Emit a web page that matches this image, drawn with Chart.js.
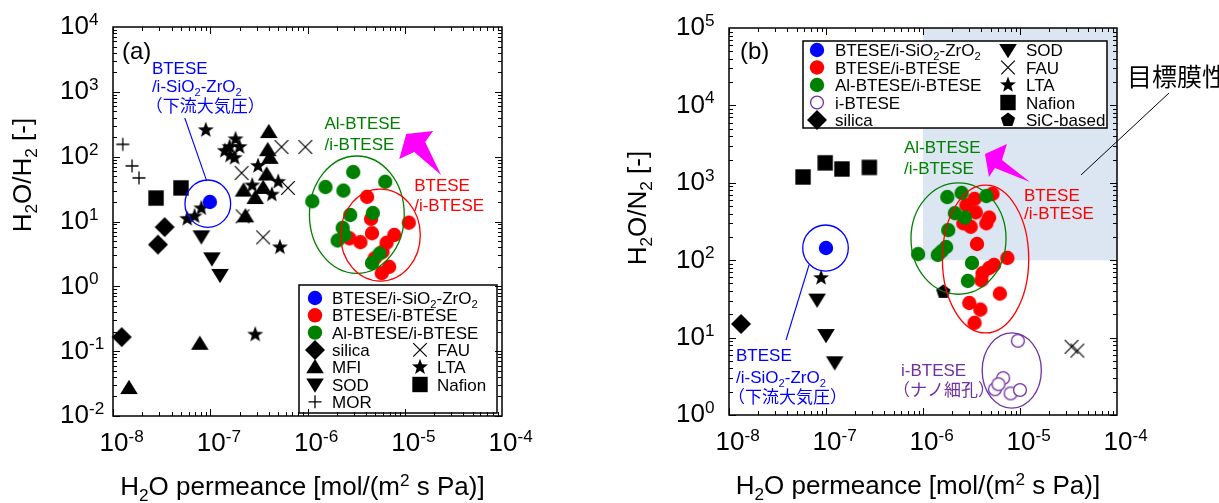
<!DOCTYPE html>
<html>
<head>
<meta charset="utf-8">
<script src="https://cdn.jsdelivr.net/npm/chart.js@4.4.1/dist/chart.umd.min.js"></script>
<style>
  html, body { margin: 0; padding: 0; background: #fff; width: 1219px; height: 503px; overflow: hidden; }
  #ca { position: absolute; left: 0; top: 0; }
  #cb { position: absolute; left: 610px; top: 0; }
</style>
</head>
<body>
<canvas id="ca" width="610" height="503"></canvas>
<canvas id="cb" width="609" height="503"></canvas>
<script>
// ---------- panel (a): H2O/H2 selectivity vs. H2O permeance ----------
const aBtSiZrX = [9.9e-8];
const aBtSiZrY = [20];
const aBtBtX = [4.1e-6, 4.5e-6, 1.1e-5, 4.6e-6, 3.5e-6, 2.7e-6, 7.8e-6, 6.5e-6, 5.9e-6, 4.9e-6, 6.9e-6, 5.8e-6];
const aBtBtY = [24, 11, 9.6, 6.6, 4.8, 5.5, 6.2, 4.7, 3.4, 2.7, 2.0, 1.6];
const aAlBtX = [2.95e-6, 1.53e-6, 2.34e-6, 6.3e-6, 1.12e-6, 2.75e-6, 4.7e-6, 2.3e-6, 2.04e-6, 2.4e-6, 5.5e-6, 4.6e-6];
const aAlBtY = [58, 34, 30, 41, 20.5, 12.6, 13.5, 8.0, 5.1, 6.2, 3.2, 2.3];
const aSilicaX = [3.4e-8, 2.9e-8, 1.23e-8];
const aSilicaY = [8.2, 4.4, 0.165];
const aMfiX = [4.0e-7, 3.9e-7, 4.1e-7, 3.8e-7, 2.2e-7, 2.9e-7, 3.5e-7, 2.3e-7, 1.46e-8, 7.8e-8];
const aMfiY = [240, 126, 96, 53, 30, 23, 33, 12, 0.027, 0.13];
const aSodX = [8.1e-8, 1.04e-7, 1.26e-7];
const aSodY = [5.9, 2.7, 1.5];
const aMorX = [1.26e-8, 1.57e-8, 1.85e-8];
const aMorY = [155, 72, 47];
const aFauX = [5.4e-7, 9.5e-7, 2.1e-7, 6.3e-7, 2.15e-7, 3.5e-7];
const aFauY = [141, 141, 56, 33, 12, 5.7];
const aLtaX = [9.0e-8, 1.58e-7, 1.82e-7, 2.0e-7, 1.41e-7, 1.78e-7, 1.6e-7, 3.1e-7, 2.7e-7, 4.3e-7, 5.0e-7, 8.1e-8, 6.9e-8, 5.8e-8, 5.2e-7, 2.9e-7];
const aLtaY = [257, 141, 186, 141, 123, 96, 104, 72, 36, 26, 41, 16, 12, 11, 4.0, 0.18];
const aNafionX = [2.77e-8, 5.0e-8];
const aNafionY = [23, 33];

// ---------- panel (b): H2O/N2 selectivity vs. H2O permeance ----------
const bBtSiZrX = [1.0e-7];
const bBtSiZrY = [144];
const bBtBtX = [3.4e-6, 2.8e-6, 5.2e-6, 3.5e-6, 2.6e-6, 3.1e-6, 4.5e-6, 4.8e-6, 3.6e-6, 7.4e-6, 5.4e-6, 4.8e-6, 4.1e-6, 4.0e-6, 6.2e-6, 3.0e-6, 3.9e-6, 3.4e-6];
const bBtBtY = [620, 515, 720, 415, 300, 270, 300, 355, 162, 107, 87, 79, 68, 55, 37, 28, 23, 15.5];
const bAlBtX = [1.78e-6, 2.5e-6, 4.5e-6, 2.13e-6, 2.7e-6, 1.82e-6, 8.9e-7, 1.42e-6, 1.73e-6, 1.55e-6, 3.2e-6, 2.9e-6];
const bAlBtY = [655, 740, 675, 405, 355, 245, 120, 117, 148, 130, 92, 54];
const bIBtX = [9.5e-6, 6.7e-6, 5.5e-6, 6.0e-6, 8.0e-6, 1.0e-5];
const bIBtY = [9.1, 3.0, 2.15, 2.5, 1.9, 2.1];
const bSilicaX = [1.33e-8];
const bSilicaY = [15];
const bSodX = [8.1e-8, 1.0e-7, 1.23e-7];
const bSodY = [31, 10.8, 4.8];
const bFauX = [3.4e-5, 3.9e-5];
const bFauY = [7.6, 6.8];
const bLtaX = [8.9e-8];
const bLtaY = [59];
const bNafionX = [5.8e-8, 9.8e-8, 1.46e-7, 2.8e-7];
const bNafionY = [1190, 1810, 1510, 1580];
const bSicX = [1.62e-6];
const bSicY = [39];

// axis ranges (decades)
const xDecades = [-8, -4];
const aYDecades = [-2, 4];
const bYDecades = [0, 5];

const FONT = '"Liberation Sans", Arial, "Noto Sans CJK JP", sans-serif';
const BLUE = '#0000ff', RED = '#ff0000', GREEN = '#008000', PURPLE = '#7030a0', MAGENTA = '#ff00ff', BLACK = '#000000';

// ---------- marker glyphs ----------
function drawShape(g, shape, x, y, color) {
  g.save();
  g.beginPath();
  g.fillStyle = color; g.strokeStyle = color;
  switch (shape) {
    case 'circle': g.arc(x, y, 7.2, 0, Math.PI * 2); g.fill(); break;
    case 'ocircle':
      g.arc(x, y, 6.4, 0, Math.PI * 2); g.fillStyle = '#fff'; g.fill();
      g.lineWidth = 1.3; g.stroke(); break;
    case 'diamond':
      g.moveTo(x, y - 10); g.lineTo(x + 10, y); g.lineTo(x, y + 10); g.lineTo(x - 10, y);
      g.closePath(); g.fill(); break;
    case 'tri':
      g.moveTo(x, y - 8.2); g.lineTo(x + 8.8, y + 6); g.lineTo(x - 8.8, y + 6);
      g.closePath(); g.fill(); break;
    case 'dtri':
      g.moveTo(x, y + 8.2); g.lineTo(x + 8.8, y - 6); g.lineTo(x - 8.8, y - 6);
      g.closePath(); g.fill(); break;
    case 'square': g.rect(x - 7.7, y - 7.7, 15.4, 15.4); g.fill(); break;
    case 'plus':
      g.moveTo(x - 6.5, y); g.lineTo(x + 6.5, y); g.moveTo(x, y - 6.5); g.lineTo(x, y + 6.5);
      g.lineWidth = 1.3; g.stroke(); break;
    case 'x':
      g.moveTo(x - 6.8, y - 6.8); g.lineTo(x + 6.8, y + 6.8); g.moveTo(x + 6.8, y - 6.8); g.lineTo(x - 6.8, y + 6.8);
      g.lineWidth = 1.2; g.stroke(); break;
    case 'star':
      for (let i = 0; i < 10; i++) {
        const r = i % 2 ? 3.5 : 8.4, a = -Math.PI / 2 + i * Math.PI / 5;
        const px = x + r * Math.cos(a), py = y + r * Math.sin(a);
        i ? g.lineTo(px, py) : g.moveTo(px, py);
      }
      g.closePath(); g.fill(); break;
    case 'pent':
      for (let i = 0; i < 5; i++) {
        const a = -Math.PI / 2 + i * 2 * Math.PI / 5;
        const px = x + 7.5 * Math.cos(a), py = y + 7.5 * Math.sin(a);
        i ? g.lineTo(px, py) : g.moveTo(px, py);
      }
      g.closePath(); g.fill(); break;
  }
  g.restore();
}
function markerImage(shape, color) {
  const c = document.createElement('canvas');
  c.width = 24; c.height = 24;
  drawShape(c.getContext('2d'), shape, 12, 12, color);
  return c;
}

// ---------- text with sub/superscripts ----------
function drawRich(ctx, parts, x, yMid, size, color, align) {
  const segs = parts.map(p => typeof p === 'string' ? [p, ''] : p).map(([t, k]) => {
    const s = k ? size * 0.66 : size;
    ctx.font = s + 'px ' + FONT;
    return { t, k, s, w: ctx.measureText(t).width };
  });
  const total = segs.reduce((a, g) => a + g.w, 0);
  let cx = align === 'center' ? x - total / 2 : align === 'right' ? x - total : x;
  const base = yMid + size * 0.36;
  ctx.fillStyle = color; ctx.textAlign = 'left'; ctx.textBaseline = 'alphabetic';
  for (const g of segs) {
    ctx.font = g.s + 'px ' + FONT;
    const dy = g.k === 'sub' ? size * 0.2 : g.k === 'sup' ? -size * 0.36 : 0;
    ctx.fillText(g.t, cx, base + dy);
    cx += g.w;
  }
  return total;
}

const SIZR = ['BTESE/i-SiO', ['2', 'sub'], '-ZrO', ['2', 'sub']];

// ---------- series definitions (first = drawn on top) ----------
const seriesA = [
  { name: 'BTESE/i-SiO2-ZrO2', parts: SIZR, xs: aBtSiZrX, ys: aBtSiZrY, shape: 'circle', color: BLUE, leg: [0, 0] },
  { name: 'Al-BTESE/i-BTESE', parts: ['Al-BTESE/i-BTESE'], xs: aAlBtX, ys: aAlBtY, shape: 'circle', color: GREEN, leg: [0, 2] },
  { name: 'BTESE/i-BTESE', parts: ['BTESE/i-BTESE'], xs: aBtBtX, ys: aBtBtY, shape: 'circle', color: RED, leg: [0, 1] },
  { name: 'silica', parts: ['silica'], xs: aSilicaX, ys: aSilicaY, shape: 'diamond', color: BLACK, leg: [0, 3] },
  { name: 'MFI', parts: ['MFI'], xs: aMfiX, ys: aMfiY, shape: 'tri', color: BLACK, leg: [0, 4] },
  { name: 'SOD', parts: ['SOD'], xs: aSodX, ys: aSodY, shape: 'dtri', color: BLACK, leg: [0, 5] },
  { name: 'MOR', parts: ['MOR'], xs: aMorX, ys: aMorY, shape: 'plus', color: BLACK, leg: [0, 6] },
  { name: 'FAU', parts: ['FAU'], xs: aFauX, ys: aFauY, shape: 'x', color: BLACK, leg: [1, 3] },
  { name: 'LTA', parts: ['LTA'], xs: aLtaX, ys: aLtaY, shape: 'star', color: BLACK, leg: [1, 4] },
  { name: 'Nafion', parts: ['Nafion'], xs: aNafionX, ys: aNafionY, shape: 'square', color: BLACK, leg: [1, 5] }
];
const seriesB = [
  { name: 'BTESE/i-SiO2-ZrO2', parts: SIZR, xs: bBtSiZrX, ys: bBtSiZrY, shape: 'circle', color: BLUE, leg: [0, 0] },
  { name: 'Al-BTESE/i-BTESE', parts: ['Al-BTESE/i-BTESE'], xs: bAlBtX, ys: bAlBtY, shape: 'circle', color: GREEN, leg: [0, 2] },
  { name: 'BTESE/i-BTESE', parts: ['BTESE/i-BTESE'], xs: bBtBtX, ys: bBtBtY, shape: 'circle', color: RED, leg: [0, 1] },
  { name: 'i-BTESE', parts: ['i-BTESE'], xs: bIBtX, ys: bIBtY, shape: 'ocircle', color: PURPLE, leg: [0, 3] },
  { name: 'silica', parts: ['silica'], xs: bSilicaX, ys: bSilicaY, shape: 'diamond', color: BLACK, leg: [0, 4] },
  { name: 'SOD', parts: ['SOD'], xs: bSodX, ys: bSodY, shape: 'dtri', color: BLACK, leg: [1, 0] },
  { name: 'FAU', parts: ['FAU'], xs: bFauX, ys: bFauY, shape: 'x', color: BLACK, leg: [1, 1] },
  { name: 'LTA', parts: ['LTA'], xs: bLtaX, ys: bLtaY, shape: 'star', color: BLACK, leg: [1, 2] },
  { name: 'Nafion', parts: ['Nafion'], xs: bNafionX, ys: bNafionY, shape: 'square', color: BLACK, leg: [1, 3] },
  { name: 'SiC-based', parts: ['SiC-based'], xs: bSicX, ys: bSicY, shape: 'pent', color: BLACK, leg: [1, 4] }
];

// ---------- panel layouts & annotations (positions in log10 data units) ----------
const panelA = {
  canvas: 'ca', series: seriesA, yDec: aYDecades,
  padding: { left: 113, right: 108, top: 27, bottom: 87 },
  tag: '(a)', tagPos: [122, 50],
  yTitle: ['H', ['2', 'sub'], 'O/H', ['2', 'sub'], ' [-]'], yTitlePos: [22, 175],
  legend: { box: [299, 285, 497, 413], rowY: 298, rowH: 17.3, colX: [315, 420], textDx: 17 },
  ellipses: [
    { x: [-7.26, -6.79], y: [0.91, 1.64], color: BLUE },
    { x: [-5.98, -5.005], y: [0.20, 2.01], color: GREEN },
    { x: [-5.66, -4.84], y: [0.08, 1.50], color: RED }
  ],
  leaders: [{ from: [-7.036, 1.623], to: [-7.262, 2.596], color: BLUE }],
  arrows: [[[-4.985, 2.348], [-4.708, 2.395], [-4.79, 2.225], [-4.626, 1.716], [-4.902, 2.071], [-5.056, 1.963]]],
  notes: [
    { at: [-7.60, 3.367], parts: ['BTESE'], color: BLUE },
    { at: [-7.60, 3.089], parts: ['/i-SiO', ['2', 'sub'], '-ZrO', ['2', 'sub']], color: BLUE },
    { at: [-7.662, 2.781], parts: ['（下流大気圧）'], color: BLUE },
    { at: [-5.826, 2.519], parts: ['Al-BTESE'], color: GREEN },
    { at: [-5.826, 2.194], parts: ['/i-BTESE'], color: GREEN },
    { at: [-4.903, 1.562], parts: ['BTESE'], color: RED },
    { at: [-4.903, 1.253], parts: ['/i-BTESE'], color: RED }
  ]
};
const panelB = {
  canvas: 'cb', series: seriesB, yDec: bYDecades,
  padding: { left: 119, right: 102, top: 28, bottom: 88 },
  tag: '(b)', tagPos: [130, 50],
  yTitle: ['H', ['2', 'sub'], 'O/N', ['2', 'sub'], ' [-]'], yTitlePos: [27, 208],
  target: { x: -6, y: 2, color: '#dce6f2' },
  legend: { box: [193, 41, 497, 128], rowY: 50, rowH: 17.5, colX: [207, 398], textDx: 18 },
  ellipses: [
    { x: [-7.24, -6.77], y: [1.86, 2.455], color: BLUE },
    { x: [-6.124, -5.144], y: [1.56, 3.0], color: GREEN },
    { x: [-5.80, -4.91], y: [1.06, 2.97], color: RED },
    { x: [-5.39, -4.78], y: [0.09, 1.06], color: PURPLE }
  ],
  leaders: [
    { from: [-7.175, 1.938], to: [-7.412, 0.969], color: BLUE },
    { from: [-3.464, 4.160], to: [-4.371, 3.101], color: BLACK, width: 1 }
  ],
  arrows: [[[-5.361, 3.372], [-5.134, 3.501], [-5.186, 3.295], [-4.897, 3.010], [-5.258, 3.191], [-5.320, 3.075]]],
  notes: [
    { at: [-7.928, 0.775], parts: ['BTESE'], color: BLUE },
    { at: [-7.928, 0.491], parts: ['/i-SiO', ['2', 'sub'], '-ZrO', ['2', 'sub']], color: BLUE },
    { at: [-8.01, 0.233], parts: ['（下流大気圧）'], color: BLUE },
    { at: [-6.196, 3.463], parts: ['Al-BTESE'], color: GREEN },
    { at: [-6.196, 3.191], parts: ['/i-BTESE'], color: GREEN },
    { at: [-4.959, 2.842], parts: ['BTESE'], color: RED },
    { at: [-4.959, 2.610], parts: ['/i-BTESE'], color: RED },
    { at: [-6.227, 0.581], parts: ['i-BTESE'], color: PURPLE },
    { at: [-6.309, 0.323], parts: ['（ナノ細孔）'], color: PURPLE },
    { at: [-3.897, 4.367], parts: ['目標膜性能'], color: BLACK, size: 25 }
  ]
};

// ---------- drawing of frame, ticks, labels, legend, annotations ----------
function drawShade(chart, p) {
  if (!p.target) return;
  const ctx = chart.ctx, a = chart.chartArea;
  const x0 = chart.scales.x.getPixelForValue(10 ** p.target.x);
  const y0 = chart.scales.y.getPixelForValue(10 ** p.target.y);
  ctx.save();
  ctx.fillStyle = p.target.color;
  ctx.fillRect(x0, a.top, a.right - x0, y0 - a.top);
  ctx.restore();
}

function drawDecor(chart, p) {
  const ctx = chart.ctx, a = chart.chartArea;
  const sx = chart.scales.x, sy = chart.scales.y;
  const P = (lx, ly) => [sx.getPixelForValue(10 ** lx), sy.getPixelForValue(10 ** ly)];
  ctx.save();

  // group ellipses
  for (const e of p.ellipses) {
    const [x0, y0] = P(e.x[0], e.y[1]), [x1, y1] = P(e.x[1], e.y[0]);
    ctx.beginPath();
    ctx.ellipse((x0 + x1) / 2, (y0 + y1) / 2, (x1 - x0) / 2, (y1 - y0) / 2, 0, 0, Math.PI * 2);
    ctx.strokeStyle = e.color; ctx.lineWidth = 1.3; ctx.stroke();
  }
  // leader lines
  for (const l of p.leaders) {
    const [x0, y0] = P(...l.from), [x1, y1] = P(...l.to);
    ctx.beginPath(); ctx.moveTo(x0, y0); ctx.lineTo(x1, y1);
    ctx.strokeStyle = l.color; ctx.lineWidth = l.width || 1.1; ctx.stroke();
  }
  // block arrows
  for (const poly of p.arrows) {
    ctx.beginPath();
    poly.forEach((pt, i) => { const [x, y] = P(...pt); i ? ctx.lineTo(x, y) : ctx.moveTo(x, y); });
    ctx.closePath(); ctx.fillStyle = MAGENTA; ctx.fill();
  }
  // annotation text
  for (const n of p.notes) {
    const [x, y] = P(...n.at);
    drawRich(ctx, n.parts, x, y, n.size || 17, n.color, 'left');
  }

  // legend
  const L = p.legend;
  ctx.fillStyle = '#fff';
  ctx.fillRect(L.box[0], L.box[1], L.box[2] - L.box[0], L.box[3] - L.box[1]);
  ctx.strokeStyle = '#000'; ctx.lineWidth = 1.5;
  ctx.strokeRect(L.box[0], L.box[1], L.box[2] - L.box[0], L.box[3] - L.box[1]);
  for (const s of p.series) {
    const x = L.colX[s.leg[0]], y = L.rowY + L.rowH * s.leg[1];
    drawShape(ctx, s.shape, x, y, s.color);
    drawRich(ctx, s.parts, x + L.textDx, y, 17, '#000', 'left');
  }

  // frame and inward ticks on all sides
  ctx.strokeStyle = '#000'; ctx.lineWidth = 1;
  ctx.beginPath();
  for (let d = xDecades[0]; d < xDecades[1]; d++) {
    for (let k = 1; k <= 9; k++) {
      const x = Math.round(sx.getPixelForValue(k * 10 ** d)) + 0.5;
      const len = k === 1 ? 7 : 4;
      ctx.moveTo(x, a.bottom); ctx.lineTo(x, a.bottom - len);
      ctx.moveTo(x, a.top); ctx.lineTo(x, a.top + len);
    }
  }
  for (let d = p.yDec[0]; d < p.yDec[1]; d++) {
    for (let k = 1; k <= 9; k++) {
      const y = Math.round(sy.getPixelForValue(k * 10 ** d)) + 0.5;
      const len = k === 1 ? 7 : 4;
      ctx.moveTo(a.left, y); ctx.lineTo(a.left + len, y);
      ctx.moveTo(a.right, y); ctx.lineTo(a.right - len, y);
    }
  }
  ctx.stroke();
  ctx.lineWidth = 1.5;
  ctx.strokeRect(a.left, a.top, a.right - a.left, a.bottom - a.top);

  // tick labels
  ctx.font = '26px ' + FONT;
  const w10 = ctx.measureText('10').width;
  for (let d = xDecades[0]; d <= xDecades[1]; d++) {
    const x = sx.getPixelForValue(10 ** d);
    drawRich(ctx, ['10', [String(d), 'sup']], x - w10 / 2 + 1, a.bottom + 26, 26, '#000', 'left');
  }
  for (let d = p.yDec[0]; d <= p.yDec[1]; d++) {
    const y = sy.getPixelForValue(10 ** d);
    drawRich(ctx, ['10', [String(d), 'sup']], a.left - 24 - w10, y - 2, 26, '#000', 'left');
  }

  // axis titles
  drawRich(ctx, ['H', ['2', 'sub'], 'O permeance [mol/(m', ['2', 'sup'], ' s Pa)]'],
    (a.left + a.right) / 2 - 5, a.bottom + 70, 26, '#000', 'center');
  ctx.save();
  ctx.translate(p.yTitlePos[0], p.yTitlePos[1]);
  ctx.rotate(-Math.PI / 2);
  drawRich(ctx, p.yTitle, 0, 0, 26, '#000', 'center');
  ctx.restore();

  // panel tag
  drawRich(ctx, [p.tag], p.tagPos[0], p.tagPos[1], 24, '#000', 'left');
  ctx.restore();
}

function buildPanel(p) {
  const datasets = p.series.map((s, i) => ({
    label: s.name,
    data: s.xs.map((x, j) => ({ x, y: s.ys[j] })),
    pointStyle: markerImage(s.shape, s.color),
    pointRadius: 6, pointHoverRadius: 6,
    showLine: false, clip: false, order: i
  }));
  return new Chart(document.getElementById(p.canvas), {
    type: 'scatter',
    data: { datasets },
    options: {
      responsive: false, animation: false, events: [],
      layout: { padding: p.padding },
      plugins: { legend: { display: false }, tooltip: { enabled: false } },
      scales: {
        x: { type: 'logarithmic', min: 10 ** xDecades[0], max: 10 ** xDecades[1], display: false, bounds: 'data' },
        y: { type: 'logarithmic', min: 10 ** p.yDec[0], max: 10 ** p.yDec[1], display: false, bounds: 'data' }
      }
    },
    plugins: [{
      id: 'panelDecor',
      beforeDatasetsDraw: c => drawShade(c, p),
      afterDatasetsDraw: c => drawDecor(c, p)
    }]
  });
}

buildPanel(panelA);
buildPanel(panelB);
</script>
</body>
</html>
